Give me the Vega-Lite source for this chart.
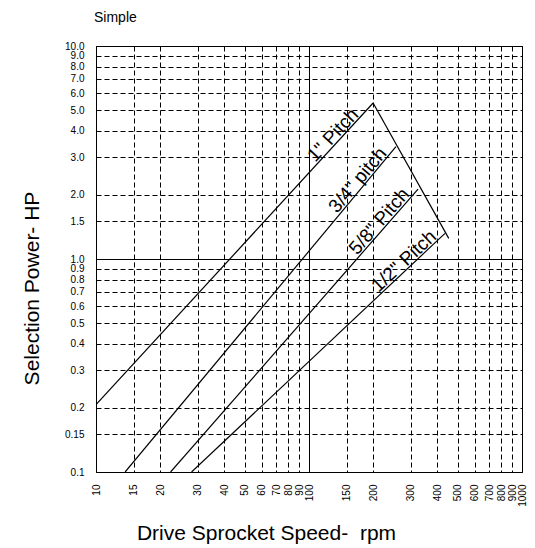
{
  "$schema": "https://vega.github.io/schema/vega-lite/v6.json",
  "width": 426,
  "height": 426,
  "autosize": {"type": "none"},
  "padding": {"left": 96, "top": 46, "right": 13, "bottom": 76},
  "background": "white",
  "config": {
    "font": "Liberation Sans",
    "view": {"stroke": "black", "strokeWidth": 1}
  },
  "title": {
    "text": "Simple",
    "anchor": "start",
    "frame": "group",
    "fontSize": 14,
    "fontWeight": "normal",
    "font": "Liberation Sans",
    "color": "black",
    "offset": 16,
    "dx": -2
  },
  "datasets": {
    "lines": [
      {"series": "1in", "rpm": 10, "hp": 0.207},
      {"series": "1in", "rpm": 200, "hp": 5.4},
      {"series": "3/4in", "rpm": 13.7, "hp": 0.1},
      {"series": "3/4in", "rpm": 256, "hp": 3.37},
      {"series": "5/8in", "rpm": 22.4, "hp": 0.1},
      {"series": "5/8in", "rpm": 325, "hp": 2.13},
      {"series": "1/2in", "rpm": 28.1, "hp": 0.1},
      {"series": "1/2in", "rpm": 435, "hp": 1.32},
      {"series": "limit", "rpm": 200, "hp": 5.4},
      {"series": "limit", "rpm": 453, "hp": 1.25}
    ],
    "labels": [
      {"id": "a", "label": "1\" Pitch", "rpm": 138, "hp": 3.6},
      {"id": "b", "label": "3/4\" pitch", "rpm": 181, "hp": 2.22},
      {"id": "c", "label": "5/8\" Pitch", "rpm": 228, "hp": 1.42},
      {"id": "d", "label": "1/2\" Pitch", "rpm": 296, "hp": 0.918}
    ]
  },
  "encoding": {
    "x": {
      "field": "rpm",
      "type": "quantitative",
      "scale": {"type": "log", "domain": [10, 1000], "nice": false},
      "axis": {
        "values": [10, 15, 20, 30, 40, 50, 60, 70, 80, 90, 100, 150, 200, 300, 400, 500, 600, 700, 800, 900, 1000],
        "labelAngle": 270,
        "labelAlign": "right",
        "labelBaseline": "middle",
        "labelFontSize": 10,
        "labelColor": "black",
        "labelPadding": 12,
        "labelOverlap": false,
        "labelFlush": false,
        "labelExpr": "format(datum.value, 'd')",
        "ticks": false,
        "domain": false,
        "grid": true,
        "gridColor": "black",
        "gridOpacity": 1,
        "gridWidth": 1,
        "gridDash": {"condition": {"test": "datum.value === 100", "value": []}, "value": [5, 3]},
        "title": "Drive Sprocket Speed-\u00a0 rpm",
        "titleFontSize": 21,
        "titleFontWeight": "normal",
        "titleColor": "black",
        "titleX": 170,
        "titleY": 61,
        "titleAlign": "center",
        "titleBaseline": "middle"
      }
    },
    "y": {
      "field": "hp",
      "type": "quantitative",
      "scale": {"type": "log", "domain": [0.1, 10], "nice": false},
      "axis": {
        "values": [0.1, 0.15, 0.2, 0.3, 0.4, 0.5, 0.6, 0.7, 0.8, 0.9, 1, 1.5, 2, 3, 4, 5, 6, 7, 8, 9, 10],
        "labelExpr": "datum.value == 0.15 ? '0.15' : format(datum.value, '.1f')",
        "labelFontSize": 10,
        "labelColor": "black",
        "labelPadding": 12,
        "labelOverlap": false,
        "labelFlush": false,
        "ticks": false,
        "domain": false,
        "grid": true,
        "gridColor": "black",
        "gridOpacity": 1,
        "gridWidth": 1,
        "gridDash": {"condition": {"test": "datum.value === 1", "value": []}, "value": [5, 3]},
        "title": "Selection Power- HP",
        "titleFontSize": 21,
        "titleFontWeight": "normal",
        "titleColor": "black",
        "titleX": -64,
        "titleY": 242,
        "titleAngle": 270,
        "titleAlign": "center",
        "titleBaseline": "middle"
      }
    }
  },
  "layer": [
    {
      "data": {"name": "lines"},
      "mark": {"type": "line", "color": "black", "strokeWidth": 1.2, "clip": true},
      "encoding": {"detail": {"field": "series"}}
    },
    {
      "data": {"name": "labels"},
      "transform": [{"filter": "datum.id === 'a'"}],
      "mark": {"type": "text", "angle": -47, "fontSize": 19, "font": "Liberation Sans", "color": "black", "align": "center", "baseline": "alphabetic", "dy": -2},
      "encoding": {"text": {"field": "label"}}
    },
    {
      "data": {"name": "labels"},
      "transform": [{"filter": "datum.id === 'b'"}],
      "mark": {"type": "text", "angle": -50, "fontSize": 19, "font": "Liberation Sans", "color": "black", "align": "center", "baseline": "alphabetic", "dy": -2},
      "encoding": {"text": {"field": "label"}}
    },
    {
      "data": {"name": "labels"},
      "transform": [{"filter": "datum.id === 'c'"}],
      "mark": {"type": "text", "angle": -49, "fontSize": 19, "font": "Liberation Sans", "color": "black", "align": "center", "baseline": "alphabetic", "dy": -2},
      "encoding": {"text": {"field": "label"}}
    },
    {
      "data": {"name": "labels"},
      "transform": [{"filter": "datum.id === 'd'"}],
      "mark": {"type": "text", "angle": -43, "fontSize": 19, "font": "Liberation Sans", "color": "black", "align": "center", "baseline": "alphabetic", "dy": -2},
      "encoding": {"text": {"field": "label"}}
    }
  ]
}
